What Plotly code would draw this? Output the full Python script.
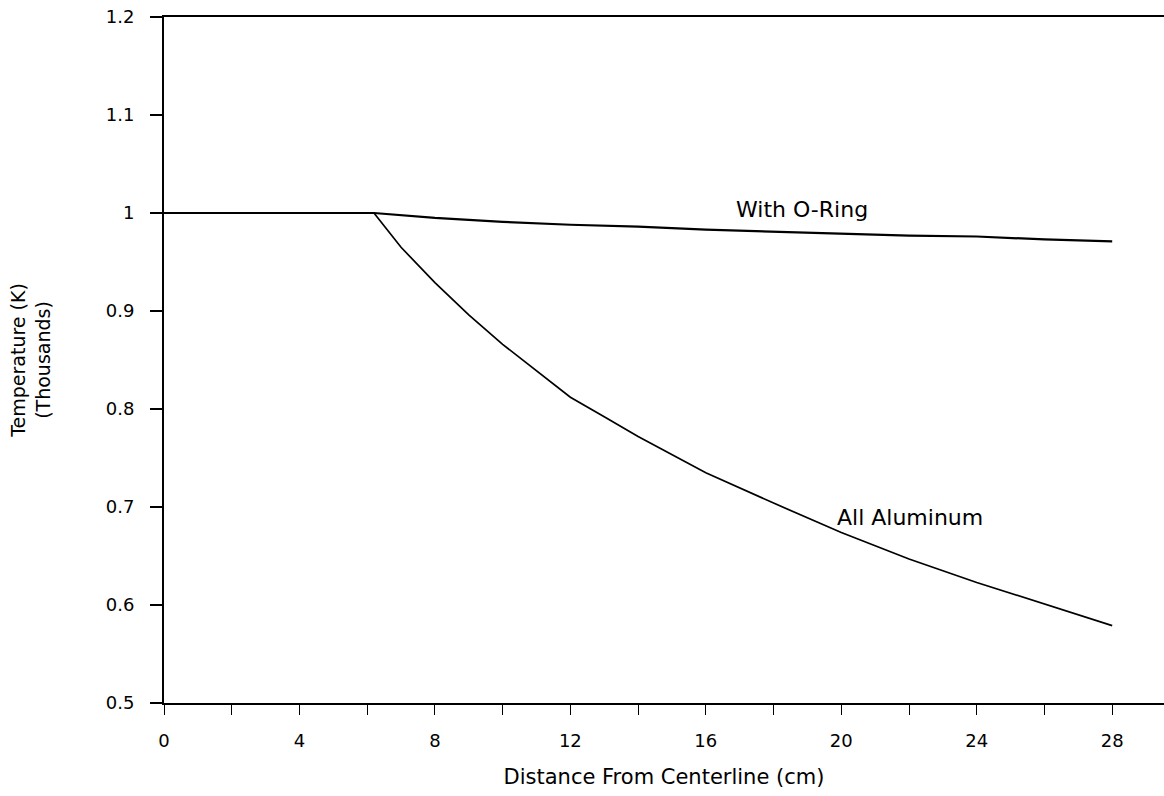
import plotly.graph_objects as go

# Data (distance in cm, temperature in thousands of K)
oring_x = [0, 2, 4, 6.2, 8, 10, 12, 14, 16, 18, 20, 22, 24, 26, 28]
oring_y = [1.0, 1.0, 1.0, 1.0, 0.995, 0.991, 0.988, 0.986, 0.983, 0.981, 0.979, 0.977, 0.976, 0.973, 0.971]

alum_x = [6.2, 7, 8, 9, 10, 11, 12, 13, 14, 16, 18, 20, 22, 24, 26, 28]
alum_y = [1.0, 0.965, 0.929, 0.896, 0.866, 0.839, 0.812, 0.792, 0.772, 0.735, 0.704, 0.674, 0.647, 0.623, 0.601, 0.579]

x_ticks = [0, 4, 8, 12, 16, 20, 24, 28]
y_ticks = [0.5, 0.6, 0.7, 0.8, 0.9, 1.0, 1.1, 1.2]
y_ticklabels = ["0.5", "0.6", "0.7", "0.8", "0.9", "1", "1.1", "1.2"]

FONT = "DejaVu Sans"

fig = go.Figure()
fig.add_trace(go.Scatter(x=oring_x, y=oring_y, mode="lines", name="With O-Ring",
                         line=dict(color="black", width=2.2), showlegend=False))
fig.add_trace(go.Scatter(x=alum_x, y=alum_y, mode="lines", name="All Aluminum",
                         line=dict(color="black", width=1.7), showlegend=False))

fig.add_annotation(x=18.84, y=1.0036, xref="x", yref="y", text="With O-Ring",
                   showarrow=False, font=dict(family=FONT, size=22, color="black"))
fig.add_annotation(x=22.03, y=0.689, xref="x", yref="y", text="All Aluminum",
                   showarrow=False, font=dict(family=FONT, size=22, color="black"))

fig.update_layout(
    width=1164, height=796,
    margin=dict(l=164, r=0, t=17, b=93),
    paper_bgcolor="white", plot_bgcolor="white",
    font=dict(family=FONT, color="black"),
    xaxis=dict(
        range=[0, 29.53], tickvals=x_ticks, ticktext=[str(v) for v in x_ticks],
        showgrid=False, zeroline=False,
        showline=True, linecolor="black", linewidth=2, mirror=True,
        ticks="outside", ticklen=10, tickwidth=1.2, tickcolor="black",
        minor=dict(dtick=2, tick0=0, ticks="outside", ticklen=10, tickwidth=1.2, tickcolor="black"),
        tickfont=dict(family=FONT, size=18),
        ticklabelstandoff=10,
        title=dict(text="Distance From Centerline (cm)", font=dict(family=FONT, size=21), standoff=20),
    ),
    yaxis=dict(
        range=[0.5, 1.2], tickvals=y_ticks, ticktext=y_ticklabels,
        showgrid=False, zeroline=False,
        showline=True, linecolor="black", linewidth=2,
        ticks="outside", ticklen=12, tickwidth=1.5, tickcolor="black",
        tickfont=dict(family=FONT, size=18),
        ticklabelstandoff=12,
        title=dict(text="Temperature (K)<br>(Thousands)", font=dict(family=FONT, size=19), standoff=50),
        automargin=False,
    ),
)

fig.write_html("out.html", config={"displayModeBar": False},
               post_script="document.body.style.margin='0';")
